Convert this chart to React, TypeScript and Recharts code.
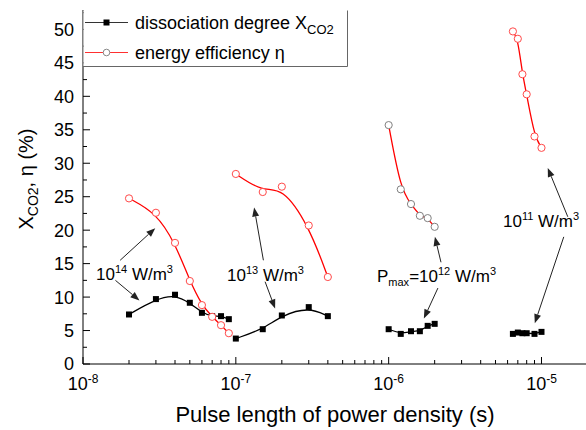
import { LineChart, Line, XAxis, YAxis, ReferenceLine } from 'recharts';

// pulse lengths (s) and values (%) for each power density group
const xG1 = [2e-8, 3e-8, 4e-8, 5e-8, 6e-8, 7e-8, 8e-8, 9e-8];
const dissG1 = [7.4, 9.7, 10.35, 9.15, 7.65, 7.15, 7.15, 6.7];
const effG1 = [24.75, 22.6, 18.1, 12.4, 8.8, 7.05, 5.8, 4.6];

const xG2 = [1e-7, 1.5e-7, 2e-7, 3e-7, 4e-7];
const dissG2 = [3.8, 5.2, 7.25, 8.5, 7.15];
const effG2 = [28.4, 25.7, 26.5, 20.7, 13.0];

const xG3 = [1e-6, 1.2e-6, 1.4e-6, 1.6e-6, 1.8e-6, 2e-6];
const dissG3 = [5.2, 4.5, 4.9, 4.9, 5.7, 6.0];
const effG3 = [35.7, 26.1, 23.9, 22.15, 21.8, 20.5];

const xG4 = [6.5e-6, 7e-6, 7.5e-6, 8e-6, 9e-6, 1e-5];
const dissG4 = [4.5, 4.7, 4.6, 4.6, 4.5, 4.8];
const effG4 = [49.7, 48.6, 43.3, 40.3, 34.0, 32.3];

const xTicks = [
  1e-8, 2e-8, 3e-8, 4e-8, 5e-8, 6e-8, 7e-8, 8e-8, 9e-8,
  1e-7, 2e-7, 3e-7, 4e-7, 5e-7, 6e-7, 7e-7, 8e-7, 9e-7,
  1e-6, 2e-6, 3e-6, 4e-6, 5e-6, 6e-6, 7e-6, 8e-6, 9e-6,
  1e-5,
];
const yTicks = [0, 2.5, 5, 7.5, 10, 12.5, 15, 17.5, 20, 22.5, 25, 27.5, 30, 32.5, 35, 37.5, 40, 42.5, 45, 47.5, 50, 52.5];

// annotation arrows [x1, y1, x2, y2] in data units (tail -> head)
const arrows = [
  [1.75e-8, 15.5, 2.97e-8, 20.3],
  [1.63e-8, 12.5, 2.34e-8, 9.5],
  [1.515e-7, 15.5, 1.317e-7, 23.4],
  [1.554e-7, 12.3, 1.807e-7, 8.3],
  [2.2e-6, 15.2, 2.007e-6, 19.0],
  [2.1e-6, 11.35, 1.7e-6, 6.8],
  [1.486e-5, 22.0, 1.099e-5, 29.3],
  [1.399e-5, 19.0, 9.04e-6, 6.1],
];

const pts = (xs: number[], ys: number[]) => xs.map((x, i) => ({ x, y: ys[i] }));

const FONT = '"Liberation Sans", Arial, sans-serif';
const isDecade = (v: number) => Math.abs(Math.log10(v) - Math.round(Math.log10(v))) < 1e-6;

const BottomTick = ({ x, y, payload }: any) => {
  const major = isDecade(payload.value);
  return (
    <g>
      <line x1={x} x2={x} y1={y} y2={y - (major ? 7 : 4)} stroke="#000" />
      {major && (
        <text x={x} y={y + 26} textAnchor="middle" fontSize={18} fill="#000" fontFamily={FONT}>
          10<tspan dy={-7} fontSize={12}>{Math.round(Math.log10(payload.value))}</tspan>
        </text>
      )}
    </g>
  );
};

const TopTick = ({ x, y, payload }: any) => {
  const major = isDecade(payload.value);
  return <line x1={x} x2={x} y1={y} y2={y + (major ? 7 : 4)} stroke="#000" />;
};

const LeftTick = ({ x, y, payload }: any) => {
  const major = payload.value % 5 === 0;
  return (
    <g>
      <line x1={x} x2={x + (major ? 7 : 4)} y1={y} y2={y} stroke="#000" />
      {major && (
        <text x={x - 9} y={y} dy="0.36em" textAnchor="end" fontSize={18} fill="#000" fontFamily={FONT}>
          {payload.value}
        </text>
      )}
    </g>
  );
};

const RightTick = ({ x, y, payload }: any) => {
  const major = payload.value % 5 === 0;
  return <line x1={x} x2={x - (major ? 7 : 4)} y1={y} y2={y} stroke="#000" />;
};

const squareDot = (p: any) => (
  <rect key={`s-${p.index}`} x={p.cx - 3} y={p.cy - 3} width={6} height={6} fill="#000" />
);
const circleDot = (color: string) => (p: any) => (
  <circle key={`c-${p.index}`} cx={p.cx} cy={p.cy} r={3.6} fill="#fff" stroke={color} strokeWidth={1} />
);

const Arrow = (p: any) => {
  const { x1, y1, x2, y2 } = p;
  const a = Math.atan2(y2 - y1, x2 - x1);
  const L = 9;
  const W = 3.5;
  const bx = x2 - L * Math.cos(a);
  const by = y2 - L * Math.sin(a);
  const px = -Math.sin(a) * W;
  const py = Math.cos(a) * W;
  return (
    <g>
      <line x1={x1} y1={y1} x2={bx} y2={by} stroke="#222" strokeWidth={1} />
      <polygon points={`${x2},${y2} ${bx + px},${by + py} ${bx - px},${by - py}`} fill="#222" />
    </g>
  );
};

const groups = [
  { x: xG1, d: dissG1, e: effG1, c: '#ff4a4a' },
  { x: xG2, d: dissG2, e: effG2, c: '#ff4a4a' },
  { x: xG3, d: dissG3, e: effG3, c: '#808080' },
  { x: xG4, d: dissG4, e: effG4, c: '#ff4a4a' },
];

export default function App() {
  return (
    <div style={{ position: 'fixed', left: 0, top: 0, width: 586, height: 430, overflow: 'hidden', background: '#fff', fontFamily: FONT }}>
      <LineChart width={592} height={430} margin={{ top: 10, right: 4.5, left: 0, bottom: 0 }}>
        <XAxis
          dataKey="x"
          type="number"
          scale="log"
          domain={[1e-8, 2e-5]}
          allowDataOverflow
          ticks={xTicks}
          interval={0}
          height={66}
          tickSize={0}
          tickMargin={0}
          tickLine={false}
          axisLine={{ stroke: '#000' }}
          tick={BottomTick}
        />
        <XAxis
          xAxisId="top"
          orientation="top"
          dataKey="x"
          type="number"
          scale="log"
          domain={[1e-8, 2e-5]}
          allowDataOverflow
          ticks={xTicks}
          interval={0}
          height={0}
          tickSize={0}
          tickMargin={0}
          tickLine={false}
          axisLine={{ stroke: '#000' }}
          tick={TopTick}
        />
        <YAxis
          type="number"
          domain={[0, 52.9]}
          allowDataOverflow
          ticks={yTicks}
          interval={0}
          width={83}
          tickSize={0}
          tickMargin={0}
          tickLine={false}
          axisLine={{ stroke: '#000' }}
          tick={LeftTick}
        />
        <YAxis
          yAxisId="right"
          orientation="right"
          type="number"
          domain={[0, 52.9]}
          allowDataOverflow
          ticks={yTicks}
          interval={0}
          width={0}
          tickSize={0}
          tickMargin={0}
          tickLine={false}
          axisLine={{ stroke: '#000' }}
          tick={RightTick}
        />
        {groups.map((g, i) => (
          <Line
            key={`d${i}`}
            data={pts(g.x, g.d)}
            dataKey="y"
            type="basis"
            stroke="#000"
            strokeWidth={1.3}
            dot={squareDot}
            activeDot={false}
            isAnimationActive={false}
          />
        ))}
        {groups.map((g, i) => (
          <Line
            key={`e${i}`}
            data={pts(g.x, g.e)}
            dataKey="y"
            type="basis"
            stroke="#ff0000"
            strokeWidth={1.3}
            dot={circleDot(g.c)}
            activeDot={false}
            isAnimationActive={false}
          />
        ))}
        {arrows.map((a, i) => (
          <ReferenceLine
            key={`a${i}`}
            segment={[{ x: a[0], y: a[1] }, { x: a[2], y: a[3] }]}
            ifOverflow="visible"
            shape={Arrow}
          />
        ))}
      </LineChart>
      <svg width={586} height={430} style={{ position: 'absolute', left: 0, top: 0, pointerEvents: 'none' }} fontFamily={FONT}>
        {/* legend */}
        <rect x={83.5} y={10.5} width={264} height={56} fill="#fff" />
        <path d="M347.5 10.5 V66.5 H83" fill="none" stroke="#666" />
        <line x1={85} x2={128} y1={22.5} y2={22.5} stroke="#333" strokeWidth={1.2} />
        <rect x={103.5} y={19.5} width={6} height={6} fill="#000" />
        <text x={135} y={28.5} fontSize={18} fill="#000">
          dissociation degree X<tspan dy={5} fontSize={13}>CO2</tspan>
        </text>
        <line x1={85} x2={128} y1={52.5} y2={52.5} stroke="#ff3030" strokeWidth={1.2} />
        <circle cx={106.5} cy={52.5} r={3.3} fill="#fff" stroke="#888" />
        <text x={135} y={58.5} fontSize={18} fill="#000">energy efficiency η</text>

        {/* annotations */}
        <text x={96} y={280} fontSize={17} fill="#000">
          10<tspan dy={-7} fontSize={11}>14</tspan><tspan dy={7}> W/m</tspan><tspan dy={-7} fontSize={11}>3</tspan>
        </text>
        <text x={227} y={281} fontSize={17} fill="#000">
          10<tspan dy={-7} fontSize={11}>13</tspan><tspan dy={7}> W/m</tspan><tspan dy={-7} fontSize={11}>3</tspan>
        </text>
        <text x={377} y={282} fontSize={17} fill="#000">
          P<tspan dy={4} fontSize={11}>max</tspan><tspan dy={-4}>=10</tspan><tspan dy={-7} fontSize={11}>12</tspan><tspan dy={7}> W/m</tspan><tspan dy={-7} fontSize={11}>3</tspan>
        </text>
        <text x={503} y={227} fontSize={17} fill="#000">
          10<tspan dy={-7} fontSize={11}>11</tspan><tspan dy={7}> W/m</tspan><tspan dy={-7} fontSize={11}>3</tspan>
        </text>

        {/* axis titles */}
        <text x={335} y={422} textAnchor="middle" fontSize={22} fill="#000">
          Pulse length of power density (s)
        </text>
        <text transform="translate(33,179) rotate(-90)" textAnchor="middle" fontSize={20} fill="#000">
          X<tspan dy={5} fontSize={14}>CO2</tspan><tspan dy={-5}>, η (%)</tspan>
        </text>
      </svg>
    </div>
  );
}
